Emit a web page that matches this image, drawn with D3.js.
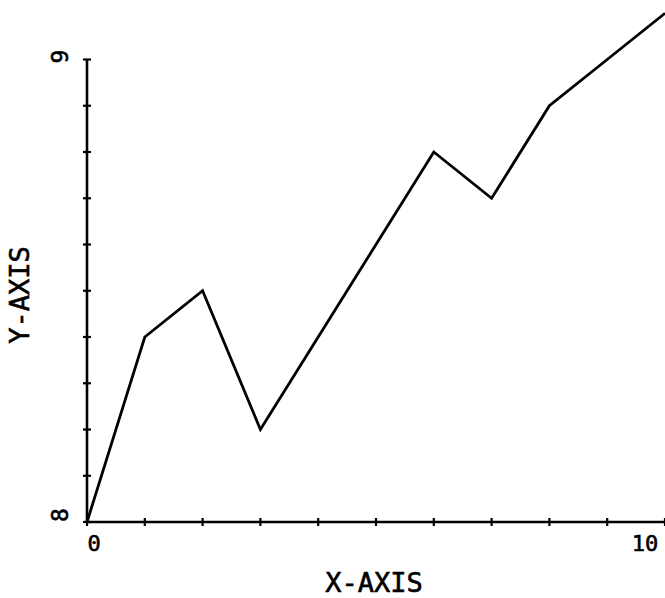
<!DOCTYPE html>
<html>
<head>
<meta charset="utf-8">
<script src="https://cdn.jsdelivr.net/npm/d3@7"></script>
<style>
html,body{margin:0;padding:0;background:#fff;}
svg{display:block;}
text{font-family:"DejaVu Sans Mono",monospace;fill:#000;stroke:#000;stroke-width:0.6px;}
</style>
</head>
<body>
<svg id="c" width="665" height="598"></svg>
<script>
const xValues = [0,1,2,3,4,5,6,7,8,9,10];
const yValues = [8.0,8.4,8.5,8.2,8.4,8.6,8.8,8.7,8.9,9.0,9.1];
const xTickLabels = ["0","10"];
const yTickLabels = ["8","9"];
const xTitle = "X-AXIS";
const yTitle = "Y-AXIS";

const svg = d3.select("#c");
const x = d3.scaleLinear().domain([0,10]).range([87,665]);
const y = d3.scaleLinear().domain([8,9]).range([522,59.5]);

// axes lines
svg.append("line").attr("x1",x(0)).attr("x2",x(10)).attr("y1",y(8)).attr("y2",y(8))
  .attr("stroke","#000").attr("stroke-width",2.6);
svg.append("line").attr("x1",x(0)).attr("x2",x(0)).attr("y1",y(8)).attr("y2",y(9))
  .attr("stroke","#000").attr("stroke-width",2.6);

// x ticks
const xt = d3.range(0,11,1);
svg.selectAll(".xt").data(xt).enter().append("line")
  .attr("x1",d=>x(d)).attr("x2",d=>x(d)).attr("y1",y(8)-4).attr("y2",y(8)+4)
  .attr("stroke","#000").attr("stroke-width",2.2);
// y ticks
const yt = d3.range(0,11).map(i=>8+i/10);
svg.selectAll(".yt").data(yt).enter().append("line")
  .attr("x1",x(0)-4).attr("x2",x(0)+4).attr("y1",d=>y(d)).attr("y2",d=>y(d))
  .attr("stroke","#000").attr("stroke-width",2.2);

// data line
const line = d3.line().x((d,i)=>x(xValues[i])).y(d=>y(d));
svg.append("path").datum(yValues).attr("d",line)
  .attr("fill","none").attr("stroke","#000").attr("stroke-width",2.8)
  .attr("stroke-linejoin","miter");

// x tick labels
svg.append("text").attr("x",x(0)+7).attr("y",551).attr("text-anchor","middle")
  .attr("font-size",22).text(xTickLabels[0]);
svg.append("text").attr("x",x(10)-20).attr("y",551).attr("text-anchor","middle")
  .attr("font-size",22).text(xTickLabels[1]);
// y tick labels (rotated)
svg.append("text").attr("transform",`translate(68,${y(8)-7}) rotate(-90)`)
  .attr("text-anchor","middle").attr("font-size",23).text(yTickLabels[0]);
svg.append("text").attr("transform",`translate(68,${y(9)-3}) rotate(-90)`)
  .attr("text-anchor","middle").attr("font-size",23).text(yTickLabels[1]);

// titles
svg.append("text").attr("x",374).attr("y",592).attr("text-anchor","middle")
  .attr("font-size",27).text(xTitle);
svg.append("text").attr("transform","translate(29,295) rotate(-90)")
  .attr("text-anchor","middle").attr("font-size",27).text(yTitle);
</script>
</body>
</html>
